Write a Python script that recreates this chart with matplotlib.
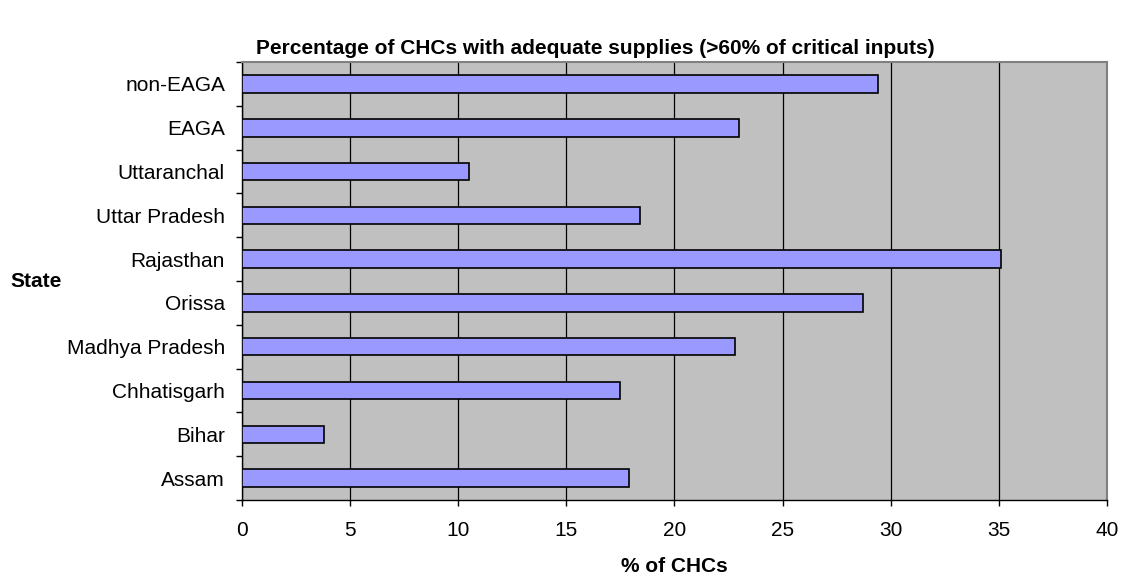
import matplotlib
matplotlib.use("Agg")
import matplotlib.pyplot as plt
import numpy as np

plt.rcParams['font.family'] = ['Liberation Sans', 'DejaVu Sans']

states = ["Assam", "Bihar", "Chhatisgarh", "Madhya Pradesh", "Orissa",
          "Rajasthan", "Uttar Pradesh", "Uttaranchal", "EAGA", "non-EAGA"]
pct_chcs = [17.9, 3.8, 17.5, 22.8, 28.7, 35.1, 18.4, 10.5, 23.0, 29.4]
x_ticks = [0, 5, 10, 15, 20, 25, 30, 35, 40]

fig = plt.figure(figsize=(11.25, 5.8), dpi=100)
ax = fig.add_axes([0.2148, 0.1379, 0.7695, 0.7551])
ax.set_facecolor("#C0C0C0")

y = np.arange(len(states))
ax.barh(y, pct_chcs, height=0.40, color="#9999FF", edgecolor="black",
        linewidth=1.2, zorder=3)

ax.set_xlim(0, 40)
ax.set_ylim(-0.5, len(states) - 0.5)
ax.set_xticks(x_ticks)
ax.set_xticklabels([str(t) for t in x_ticks], fontsize=15)
ax.xaxis.grid(True, color="black", linewidth=0.9, zorder=1)
ax.set_axisbelow(True)

ax.set_yticks(y)
ax.set_yticklabels(states, fontsize=15)
ax.set_yticks(np.arange(-0.5, len(states), 1.0), minor=True)
ax.tick_params(axis="y", which="major", length=0, pad=12)
ax.tick_params(axis="y", which="minor", length=4.5, width=1, direction="out")
ax.tick_params(axis="x", which="major", length=4, width=1, direction="out", pad=11)

for side in ("top", "right"):
    ax.spines[side].set_color("#808080")
    ax.spines[side].set_linewidth(1.5)
for side in ("left", "bottom"):
    ax.spines[side].set_color("black")
    ax.spines[side].set_linewidth(1.0)

fig.text(0.5996, 0.0241, "% of CHCs", fontsize=15, fontweight="bold",
         ha="center", va="center")
fig.text(0.009, 0.5155, "State", fontsize=15, fontweight="bold",
         ha="left", va="center")
fig.text(0.529, 0.917, "Percentage of CHCs with adequate supplies (>60% of critical inputs)",
         fontsize=15, fontweight="bold", ha="center", va="center")

fig.savefig("out.png", dpi=100)
